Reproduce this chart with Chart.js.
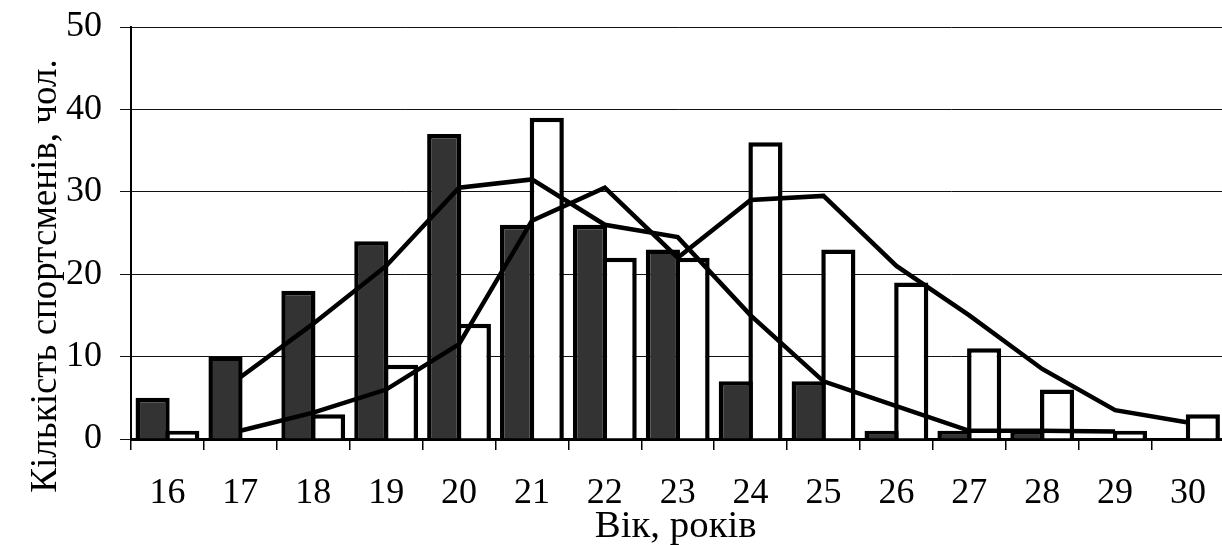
<!DOCTYPE html>
<html>
<head>
<meta charset="utf-8">
<script src="https://cdn.jsdelivr.net/npm/chart.js@4/dist/chart.umd.min.js"></script>
<style>
  html, body { margin: 0; padding: 0; background: #fff; overflow: hidden; }
  #wrap { width: 1222px; height: 545px; overflow: hidden; position: relative; }
  #inner { width: 1228px; height: 545px; }
</style>
</head>
<body>
<div id="wrap"><div id="inner"><canvas id="c" width="1228" height="545"></canvas></div></div>
<script>
const categories = ['16','17','18','19','20','21','22','23','24','25','26','27','28','29','30'];
const darkValues  = [5, 10, 18, 24, 37, 26, 26, 23, 7, 7, 1, 1, 1, null, null];
const whiteValues = [1, null, 3, 9, 14, 39, 22, 22, 36, 23, 19, 11, 6, 1, 3];
const darkTrend   = [null, 7.5, 14, 21, 30.5, 31.5, 26, 24.5, 15, 7, 4, 1, 1, 0.9, null];
const whiteTrend  = [null, 1, 3.2, 6, 11.5, 26.5, 30.5, 22, 29, 29.5, 21, 15, 8.5, 3.5, 2];
const yTicks = [0, 10, 20, 30, 40, 50];
const xTitle = 'Вік, років';
const yTitle = 'Кількість спортсменів, чол.';

const FONT = '"Liberation Serif", "Times New Roman", serif';

const titlePlugin = {
  id: 'axisTitles',
  afterDraw(chart) {
    const ctx = chart.ctx;
    ctx.save();
    ctx.fillStyle = '#000';
    ctx.font = '37px ' + FONT;
    ctx.textAlign = 'center';
    ctx.textBaseline = 'alphabetic';
    const area = chart.chartArea;
    ctx.save();
    ctx.translate((area.left + area.right) / 2 - 2, 537);
    ctx.scale(1.05, 1);
    ctx.fillText(xTitle, 0, 0);
    ctx.restore();
    ctx.translate(56, 276);
    ctx.rotate(-Math.PI / 2);
    ctx.fillText(yTitle, 0, 0);
    ctx.restore();
  }
};

new Chart(document.getElementById('c'), {
  type: 'bar',
  data: {
    labels: categories,
    datasets: [
      { type: 'line', data: darkTrend, borderColor: '#000', borderWidth: 4.5, pointRadius: 0, tension: 0, fill: false, order: 0, spanGaps: false },
      { type: 'line', data: whiteTrend, borderColor: '#000', borderWidth: 4.5, pointRadius: 0, tension: 0, fill: false, order: 0, spanGaps: false },
      { type: 'bar', data: darkValues, backgroundColor: '#333333', borderColor: '#000', borderWidth: 4.5, borderSkipped: 'bottom', categoryPercentage: 0.814, barPercentage: 1.151, order: 1 },
      { type: 'bar', data: whiteValues, backgroundColor: '#ffffff', borderColor: '#000', borderWidth: 4.5, borderSkipped: 'bottom', categoryPercentage: 0.814, barPercentage: 1.151, order: 1 }
    ]
  },
  options: {
    responsive: false,
    animation: false,
    devicePixelRatio: 1,
    layout: { padding: { top: 27, right: 0, bottom: 0, left: 0 } },
    plugins: { legend: { display: false }, tooltip: { enabled: false } },
    scales: {
      x: {
        offset: true,
        grid: { display: true, drawOnChartArea: false, drawTicks: true, tickLength: 11, color: '#000', lineWidth: 1.5, offset: true },
        border: { display: true, color: '#000', width: 3 },
        ticks: { color: '#000', font: { family: FONT, size: 36 }, padding: 22, maxRotation: 0, autoSkip: false },
        afterFit(scale) { scale.height = 106; }
      },
      y: {
        min: 0, max: 50,
        afterBuildTicks(scale) { scale.ticks = yTicks.map(v => ({ value: v })); },
        grid: { color: '#111', lineWidth: 1, tickLength: 11, drawTicks: true },
        border: { display: true, color: '#000', width: 2 },
        ticks: { color: '#000', font: { family: FONT, size: 36 }, padding: 0, callback: v => v + '  ' },
        afterFit(scale) { scale.width = 131; }
      }
    }
  },
  plugins: [titlePlugin]
});
</script>
</body>
</html>
